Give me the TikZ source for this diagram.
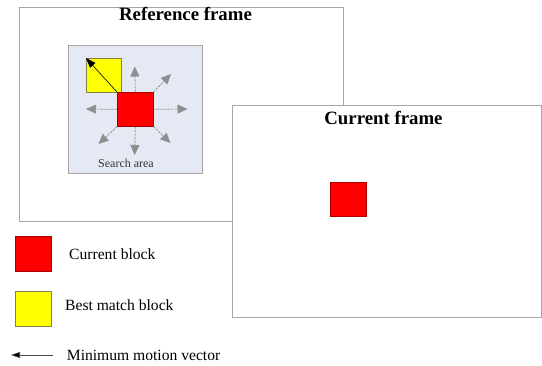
\documentclass[tikz,border=0pt]{standalone}
\usepackage{fontspec}
\setmainfont{Liberation Serif}
\usetikzlibrary{arrows.meta}
\definecolor{framegray}{HTML}{A6A6A6}
\definecolor{areafill}{HTML}{E4E9F3}
\definecolor{arrowgray}{HTML}{8E8E8E}
\definecolor{blockred}{HTML}{FF0000}
\definecolor{blockyellow}{HTML}{FFFF00}
\begin{document}
\begin{tikzpicture}[x=1pt,y=-1pt,
  frame/.style={draw=framegray,line width=1pt,fill=white,anchor=north west,inner sep=0pt},
  blk/.style={anchor=north west,inner sep=0pt,line width=0.6pt},
  redblk/.style={blk,fill=blockred,draw=red!65!black,minimum width=36pt,minimum height=34pt},
  yelblk/.style={blk,fill=blockyellow,draw=yellow!45!black,minimum width=35pt,minimum height=34pt},
  grayarrow/.style={draw=arrowgray,fill=arrowgray,dash pattern=on 2pt off 1.5pt,line width=0.7pt,-{Triangle[length=10pt,width=9pt]}},
  blackarrow/.style={draw=black,line width=0.6pt,-{Triangle[length=10pt,width=7pt]}},
  titletext/.style={font=\bfseries\fontsize{18.8}{21}\selectfont,anchor=base,inner sep=0pt},
  lbl/.style={font=\fontsize{15.6}{18}\selectfont,anchor=base west,inner sep=0pt}
]
\useasboundingbox (0,0) rectangle (542,365);

% Reference frame
\node[frame,minimum width=324pt,minimum height=214pt] (ref) at (19,7) {};
\node[titletext] (reftitle) at (185.5,20.7) {Reference frame};

% Search area
\node[draw=framegray,fill=areafill,line width=0.8pt,anchor=north west,inner sep=0pt,
      minimum width=134pt,minimum height=128pt] (area) at (68,45) {};
\node[font=\fontsize{12}{14}\selectfont,anchor=base,inner sep=0pt,text=black!80] (areatext) at (126,167.7) {Search area};

% search arrows
\node[redblk] (rblk) at (117,92) {};
\coordinate (tipN) at (134.7,66.5);
\coordinate (tipS) at (134.7,155);
\coordinate (tipW) at (86,109);
\coordinate (tipE) at (187.5,109);
\coordinate (tipNE) at (171,74);
\coordinate (tipSE) at (170.5,143);
\coordinate (tipSW) at (98.5,144);
\draw[grayarrow] (rblk.north) -- (tipN);
\draw[grayarrow] (rblk.south) -- (tipS);
\draw[grayarrow] (rblk.west) -- (tipW);
\draw[grayarrow] (rblk.east) -- (tipE);
\draw[grayarrow] (rblk.north east) -- (tipNE);
\draw[grayarrow] (rblk.south east) -- (tipSE);
\draw[grayarrow] (rblk.south west) -- (tipSW);

\node[yelblk] (yblk) at (86,58) {};
\node[redblk] (rblk2) at (117,92) {};
\draw[blackarrow] (rblk2.north west) -- (yblk.north west);

% Current frame
\node[frame,minimum width=308.5pt,minimum height=212pt] (cur) at (232,105) {};
\node[titletext] (curtitle) at (383.5,124) {Current frame};
\node[redblk] (cblk) at (330,182) {};

% Legend
\node[redblk,minimum width=36pt,minimum height=35pt] (legred) at (15,236) {};
\node[lbl] (legredtext) at (69,259.3) {Current block};
\node[yelblk,minimum width=36pt,minimum height=35pt] (legyel) at (15,291) {};
\node[lbl] (legyeltext) at (65,310.7) {Best match block};
\coordinate (legarrowstart) at (53,355);
\coordinate (legarrowend) at (11,355);
\draw[line width=0.6pt,draw=black!70,-{Triangle[length=9pt,width=6pt,fill=black]}] (legarrowstart) -- (legarrowend);
\node[lbl] (legarrowtext) at (66.7,360) {Minimum motion vector};
\end{tikzpicture}
\end{document}
